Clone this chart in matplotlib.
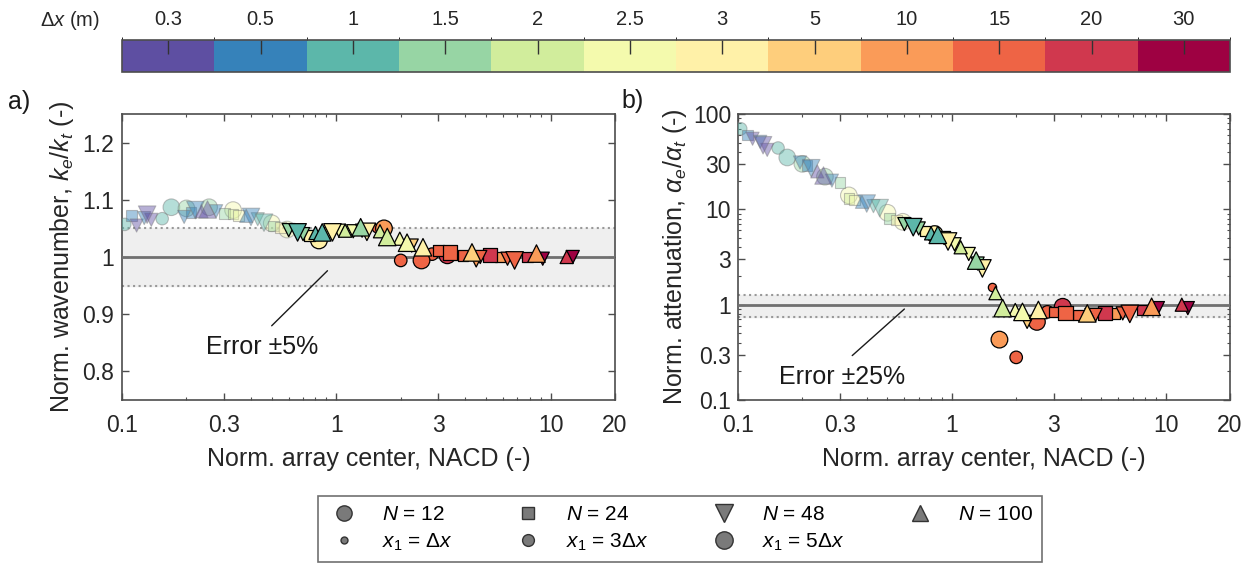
import numpy as np
import matplotlib
matplotlib.use("Agg")
import matplotlib.pyplot as plt
from matplotlib.colors import ListedColormap, BoundaryNorm
from matplotlib.lines import Line2D
from matplotlib.ticker import FixedLocator, NullFormatter, LogLocator

plt.rcParams['font.family'] = ['Liberation Sans', 'DejaVu Sans']
plt.rcParams['mathtext.fontset'] = 'custom'
plt.rcParams['mathtext.rm'] = 'Liberation Sans'
plt.rcParams['mathtext.it'] = 'Liberation Sans:italic'

# colour classes (receiver spacing)
dx_labels = ['0.3', '0.5', '1', '1.5', '2', '2.5', '3', '5', '10', '15', '20', '30']

# one row per array: NACD, k_e/k_t, alpha_e/alpha_t, dx class, N, x1 multiple
nacd = [0.103, 0.111, 0.117, 0.127, 0.131, 0.137, 0.154, 0.17, 0.195, 0.2,
        0.21, 0.22, 0.235, 0.25, 0.255, 0.275, 0.3, 0.33, 0.33, 0.35,
        0.38, 0.4, 0.43, 0.46, 0.5, 0.51, 0.55, 0.59,
        0.6, 0.66, 0.7, 0.75, 0.8, 0.83, 0.86, 0.92, 0.96, 1.03,
        1.1, 1.2, 1.3, 1.32, 1.39, 1.54, 1.6, 1.67, 1.73, 1.98,
        2.0, 2.14, 2.25, 2.5, 2.54, 2.8, 3.0, 3.3, 3.4, 3.9,
        4.3, 4.5, 4.7, 5.2, 5.8, 6.3, 6.8, 7.8, 8.6, 9.2, 11.9, 12.7]
k_ratio = [1.057, 1.073, 1.055, 1.068, 1.074, 1.065, 1.067, 1.087, 1.070, 1.085,
           1.078, 1.082, 1.080, 1.084, 1.087, 1.080, 1.076, 1.082, 1.075, 1.073,
           1.072, 1.070, 1.066, 1.060, 1.059, 1.054, 1.052, 1.048,
           1.047, 1.043, 1.040, 1.038, 1.042, 1.029, 1.043, 1.040, 1.043, 1.046,
           1.046, 1.045, 1.052, 1.046, 1.044, 1.050, 1.045, 1.050, 1.035, 1.032,
           0.994, 1.025, 1.020, 0.994, 1.017, 1.005, 1.011, 1.003, 1.008, 1.003,
           1.008, 0.994, 1.000, 1.003, 1.000, 0.997, 0.994, 1.000, 1.006, 0.997, 1.000, 1.000]
a_ratio = [70, 60, 55, 51, 47, 42, 44, 35, 31, 30,
           29, 27, 25, 23, 22, 20, 19, 14, 13, 12.5,
           12, 11.5, 10.8, 10.3, 9.2, 8.0, 7.7, 7.4,
           7.0, 6.5, 6.3, 5.9, 5.6, 5.5, 5.4, 5.0, 4.6, 4.3,
           4.0, 3.4, 2.9, 2.7, 2.4, 1.53, 1.32, 0.43, 0.92, 0.88,
           0.28, 0.84, 0.66, 0.66, 0.88, 0.84, 0.84, 0.95, 0.81, 0.78,
           0.81, 0.78, 0.78, 0.81, 0.81, 0.81, 0.80, 0.88, 0.95, 0.92, 1.0, 0.92]
dx_class = [2, 1, 0, 1, 0, 0, 2, 2, 1, 3,
            1, 1, 0, 0, 3, 1, 3, 5, 4, 5,
            1, 1, 2, 2, 5, 3, 6, 5,
            3, 2, 3, 6, 2, 6, 2, 5, 6, 5,
            4, 5, 3, 3, 6, 9, 4, 8, 4, 5,
            9, 5, 7, 9, 6, 9, 9, 10, 9, 9,
            7, 8, 9, 10, 8, 9, 9, 10, 8, 11, 10, 11]
n_sensors = [12, 24, 48, 48, 48, 48, 12, 12, 48, 12,
             24, 48, 100, 100, 12, 48, 24, 12, 24, 24,
             100, 48, 48, 48, 12, 24, 24, 12,
             48, 48, 48, 24, 100, 12, 100, 48, 48, 48,
             100, 48, 100, 48, 48, 12, 100, 12, 100, 100,
             12, 100, 48, 12, 100, 12, 24, 12, 24, 24,
             100, 48, 48, 24, 24, 48, 48, 24, 100, 48, 100, 48]
x1_mult = [3, 3, 3, 3, 5, 3, 3, 5, 3, 5,
           3, 5, 3, 5, 5, 3, 3, 5, 3, 3,
           3, 5, 3, 5, 5, 3, 3, 5,
           3, 5, 3, 3, 3, 5, 5, 3, 5, 3,
           3, 3, 5, 3, 5, 1, 3, 5, 5, 3,
           3, 5, 3, 5, 5, 3, 3, 5, 5, 3,
           5, 3, 3, 5, 3, 3, 5, 3, 5, 3, 3, 3]

nacd = np.array(nacd)
k_ratio = np.array(k_ratio)
a_ratio = np.array(a_ratio)
dx_class = np.array(dx_class)
n_sensors = np.array(n_sensors)
x1_mult = np.array(x1_mult)

cmap = ListedColormap(plt.get_cmap('Spectral_r')(np.linspace(0, 1, 12)))
norm = BoundaryNorm(np.arange(13), 12)
markers = {12: 'o', 24: 's', 48: 'v', 100: '^'}
msize = {1: 6, 3: 9, 5: 12}
scale = {12: 1.0, 24: 0.85, 48: 1.05, 100: 1.05}

fig = plt.figure(figsize=(12.53, 5.67), dpi=100)
ax1 = fig.add_axes([122 / 1253, 167 / 567, 493 / 1253, 286 / 567])
ax2 = fig.add_axes([738 / 1253, 167 / 567, 492 / 1253, 286 / 567])
cax = fig.add_axes([122 / 1253, 495 / 567, 1108 / 1253, 32 / 567])

spine_c = '#4d4d4d'
txt_c = '#262626'
tick_fs = 16.5
label_fs = 18


def draw(ax, yvals):
    near = nacd < 0.6
    for n, mk in markers.items():
        for x1 in (1, 3, 5):
            for nf in (True, False):
                sel = (n_sensors == n) & (x1_mult == x1) & (near == nf)
                if not sel.any():
                    continue
                s = (msize[x1] * scale[n]) ** 2
                if nf:
                    ax.scatter(nacd[sel], yvals[sel], c=dx_class[sel], cmap=cmap, norm=norm,
                               marker=mk, s=s, alpha=0.45, edgecolors='#777777',
                               linewidths=0.8, zorder=4)
                else:
                    ax.scatter(nacd[sel], yvals[sel], c=dx_class[sel], cmap=cmap, norm=norm,
                               marker=mk, s=s, edgecolors='black', linewidths=0.9, zorder=5)


def style(ax):
    ax.set_xscale('log')
    ax.set_xlim(0.1, 20)
    ax.xaxis.set_major_locator(FixedLocator([0.1, 0.3, 1, 3, 10, 20]))
    ax.set_xticklabels(['0.1', '0.3', '1', '3', '10', '20'])
    ax.xaxis.set_minor_locator(LogLocator(base=10, subs=np.arange(2, 10)))
    ax.xaxis.set_minor_formatter(NullFormatter())
    ax.tick_params(which='both', direction='in', top=True, right=True, colors=spine_c,
                   labelcolor=txt_c, labelsize=tick_fs)
    ax.tick_params(which='major', length=5, width=1)
    ax.tick_params(which='minor', length=2.5, width=0.8)
    ax.tick_params(axis='x', pad=10)
    ax.tick_params(axis='y', pad=6)
    for sp in ax.spines.values():
        sp.set_color(spine_c)
        sp.set_linewidth(1.2)
    ax.set_xlabel('Norm. array center, NACD (-)', fontsize=label_fs, color=txt_c, labelpad=7)


# panel a
ax1.axhspan(0.95, 1.05, color='#efefef', zorder=1)
ax1.axhline(1.05, color='#999999', ls=':', lw=1.5, zorder=2)
ax1.axhline(0.95, color='#999999', ls=':', lw=1.5, zorder=2)
ax1.axhline(1.0, color='#707070', lw=2, zorder=3)
draw(ax1, k_ratio)
style(ax1)
ax1.set_ylim(0.75, 1.25)
ax1.set_yticks([0.8, 0.9, 1.0, 1.1, 1.2])
ax1.set_yticklabels(['0.8', '0.9', '1', '1.1', '1.2'])
ax1.set_ylabel('Norm. wavenumber, $k_e/k_t$ (-)', fontsize=label_fs, color=txt_c, labelpad=4)
ax1.annotate('Error ±5%', xy=(0.91, 0.976), xytext=(0.45, 0.842), fontsize=18,
             ha='center', va='center', color='#1a1a1a',
             arrowprops=dict(arrowstyle='-', color='#1a1a1a', lw=1, relpos=(0.5, 1), shrinkA=7, shrinkB=0))

# panel b
ax2.axhspan(0.75, 1.25, color='#efefef', zorder=1)
ax2.axhline(1.25, color='#999999', ls=':', lw=1.5, zorder=2)
ax2.axhline(0.75, color='#999999', ls=':', lw=1.5, zorder=2)
ax2.axhline(1.0, color='#707070', lw=2, zorder=3)
draw(ax2, a_ratio)
style(ax2)
ax2.set_yscale('log')
ax2.set_ylim(0.1, 100)
ax2.yaxis.set_major_locator(FixedLocator([0.1, 0.3, 1, 3, 10, 30, 100]))
ax2.set_yticklabels(['0.1', '0.3', '1', '3', '10', '30', '100'])
ax2.yaxis.set_minor_locator(LogLocator(base=10, subs=np.arange(2, 10)))
ax2.yaxis.set_minor_formatter(NullFormatter())
ax2.tick_params(which='both', direction='in', top=True, right=True, colors=spine_c,
                labelcolor=txt_c, labelsize=tick_fs)
ax2.tick_params(axis='y', pad=5)
ax2.set_ylabel(r'Norm. attenuation, $\alpha_e/\alpha_t$ (-)', fontsize=label_fs, color=txt_c, labelpad=3)
ax2.annotate('Error ±25%', xy=(0.6, 0.9), xytext=(0.306, 0.175), fontsize=18,
             ha='center', va='center', color='#1a1a1a',
             arrowprops=dict(arrowstyle='-', color='#1a1a1a', lw=1, relpos=(0.5, 1), shrinkA=7, shrinkB=0))

fig.text(19 / 1253, 1 - 102 / 567, 'a)', fontsize=18, color='#1a1a1a', ha='center', va='center')
fig.text(633 / 1253, 1 - 101 / 567, 'b)', fontsize=18, color='#1a1a1a', ha='center', va='center')

# colour bar
cb = fig.colorbar(plt.cm.ScalarMappable(norm=norm, cmap=cmap), cax=cax, orientation='horizontal')
cb.set_ticks(np.arange(12) + 0.5)
cb.set_ticklabels(dx_labels)
cax.xaxis.set_ticks_position('top')
cax.xaxis.set_label_position('top')
cax.tick_params(direction='in', length=10, width=1, colors='#333333', labelcolor=txt_c,
                labelsize=14.5, pad=8)
cb.outline.set_edgecolor(spine_c)
cb.outline.set_linewidth(1.2)
fig.text(70 / 1253, 1 - 20 / 567, r'$\mathit{\Delta x}$ (m)', fontsize=14.5, ha='center', va='center',
         color=txt_c)

# legend
grey = '#7a7a7a'
h = [
    Line2D([], [], ls='none', marker='o', ms=11, mfc=grey, mec='#333333'),
    Line2D([], [], ls='none', marker='o', ms=5, mfc=grey, mec='#333333'),
    Line2D([], [], ls='none', marker='s', ms=9, mfc=grey, mec='#333333'),
    Line2D([], [], ls='none', marker='o', ms=8.5, mfc=grey, mec='#333333'),
    Line2D([], [], ls='none', marker='v', ms=13, mfc=grey, mec='#333333'),
    Line2D([], [], ls='none', marker='o', ms=12.5, mfc=grey, mec='#333333'),
    Line2D([], [], ls='none', marker='^', ms=12, mfc=grey, mec='#333333'),
    Line2D([], [], ls='none', marker=None),
]
labels = ['$N$ = 12', '$x_1$ = $\\mathit{\\Delta x}$', '$N$ = 24', '$x_1$ = 3$\\mathit{\\Delta x}$',
          '$N$ = 48', '$x_1$ = 5$\\mathit{\\Delta x}$', '$N$ = 100', '']
leg = fig.legend(h, labels, ncol=4, loc='lower left', mode='expand',
                 bbox_to_anchor=(318 / 1253, 5 / 567, 724 / 1253, 0.1), borderaxespad=0,
                 fontsize=15, frameon=True, fancybox=False, edgecolor=spine_c,
                 handlelength=1.6, handletextpad=1.0, columnspacing=2.0,
                 borderpad=0.45, labelspacing=0.35)
leg.get_frame().set_linewidth(1.2)

fig.savefig('out.png', dpi=100)
